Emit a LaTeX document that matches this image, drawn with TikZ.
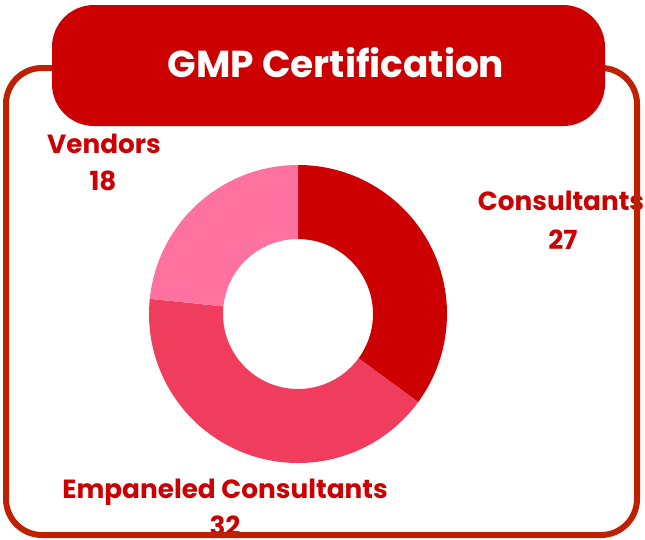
\documentclass[tikz,border=0pt]{standalone}
\usepackage{fontspec}
\setmainfont{Poppins}
\definecolor{titlered}{HTML}{CC0000}
\definecolor{framered}{HTML}{BF2000}
\definecolor{labelred}{HTML}{CC0000}
\definecolor{sliceA}{HTML}{CC0000}
\definecolor{sliceB}{HTML}{F03D5E}
\definecolor{sliceC}{HTML}{FF729F}
\tikzset{
  lab/.style={text=labelred, font=\fontsize{26.3}{30}\selectfont\bfseries, inner sep=0pt, anchor=base},
  frame/.style={draw=framered, line width=6pt, rounded corners=36pt},
  titlebox/.style={fill=titlered, rounded corners=42pt},
}
\begin{document}
\begin{tikzpicture}[x=1pt,y=-1pt]
\useasboundingbox (0,0) rectangle (645,539);
\fill[white] (0,0) rectangle (645,539);
% donut
\coordinate (c) at (298,314);
\begin{scope}[shift={(c)}]
  \fill[sliceA] (-90:149) arc[start angle=-90,end angle=36.23,radius=149] -- (36.23:75) arc[start angle=36.23,end angle=-90,radius=75] -- cycle;
  \fill[sliceB] (36.23:149) arc[start angle=36.23,end angle=185.84,radius=149] -- (185.84:75) arc[start angle=185.84,end angle=36.23,radius=75] -- cycle;
  \fill[sliceC] (185.84:149) arc[start angle=185.84,end angle=270,radius=149] -- (270:75) arc[start angle=270,end angle=185.84,radius=75] -- cycle;
\end{scope}
% labels
\node[lab] (ven) at (104,153) {Vendors};
\node[lab] (ven2) at (103,190) {18};
\node[lab] (con) at (561,210) {Consultants};
\node[lab] (con2) at (563,249) {27};
\node[lab] (emp) at (225,498) {Empaneled Consultants};
\node[lab] (emp2) at (225,535) {32};
% frame
\draw[frame] (6,68) rectangle (637,535);
% title
\fill[titlebox] (52,5) rectangle (605,126);
\node[text=white, font=\fontsize{37.5}{45}\selectfont\bfseries, inner sep=0pt, anchor=base] (title) at (336,77) {GMP Certification};
\end{tikzpicture}
\end{document}
